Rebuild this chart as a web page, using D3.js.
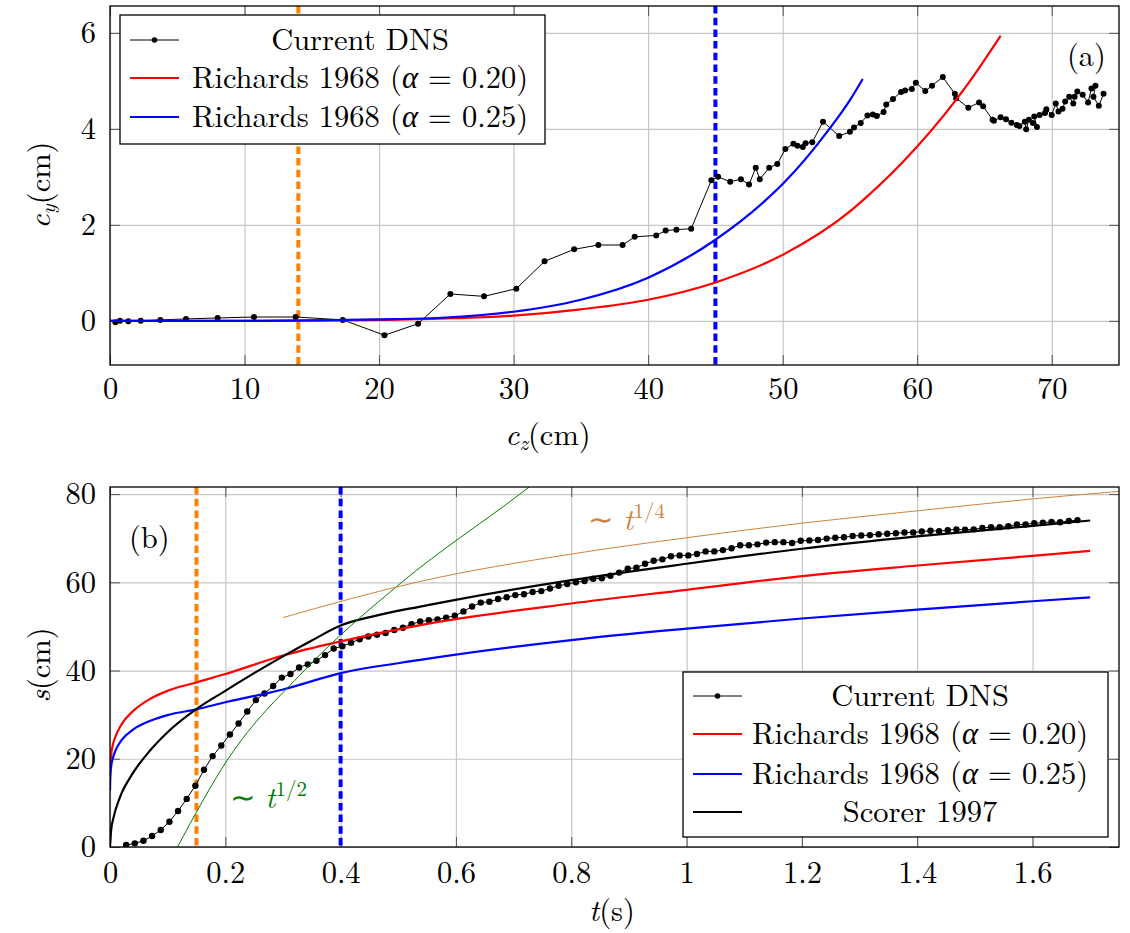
<!DOCTYPE html>
<html>
<head>
<meta charset="utf-8">
<script src="https://cdn.jsdelivr.net/npm/d3@7"></script>
<style>
  body { margin: 0; background: #fff; }
  .grid line { stroke: #c6c6c6; stroke-width: 1.2; }
  .tickmark line { stroke: #555; stroke-width: 1; }
</style>
</head>
<body>
<svg id="chart" width="1130" height="933"></svg>
<script>
/* global d3 */

// ---- panel (a): c_y against c_z ----
const topXTicks = [0, 10, 20, 30, 40, 50, 60, 70]
const topYTicks = [0, 2, 4, 6]

const dnsCz = [0.4,0.74,1.36,2.28,3.74,5.65,8.0,10.7,13.8,17.3,20.4,22.9,25.3,27.8,30.2,32.3,34.5,36.3,38.1,39.0,
  40.6,41.3,42.1,43.2,44.7,45.2,46.1,46.9,47.5,48.0,48.3,49.0,49.6,50.2,50.8,51.1,51.5,51.7,52.2,53.0,
  54.2,55.0,55.3,55.8,56.3,56.7,57.0,57.5,57.7,58.2,58.8,59.1,59.6,59.9,60.6,61.1,61.9,62.8,62.9,63.8,
  64.6,64.9,65.6,65.7,66.2,66.6,67.0,67.4,67.6,68.0,68.1,68.3,68.6,68.9,68.7,69.1,69.5,69.6,70.0,70.3,
  70.5,70.8,71.0,71.3,71.6,71.7,71.9,72.3,72.7,72.95,73.25,73.1,73.5,73.85]
const dnsCy = [-0.03,0.0,-0.01,0.0,0.02,0.04,0.06,0.08,0.08,0.02,-0.3,-0.06,0.56,0.51,0.67,1.24,1.49,1.58,1.58,1.75,
  1.78,1.88,1.9,1.92,2.93,3.0,2.9,2.95,2.84,3.19,2.95,3.19,3.27,3.58,3.69,3.65,3.62,3.7,3.72,4.15,
  3.85,3.94,4.03,4.12,4.28,4.3,4.27,4.35,4.51,4.62,4.77,4.8,4.83,4.96,4.79,4.9,5.08,4.73,4.64,4.44,
  4.55,4.47,4.19,4.17,4.24,4.2,4.13,4.08,4.06,4.15,3.99,4.19,4.12,4.04,4.26,4.29,4.33,4.41,4.29,4.53,
  4.36,4.42,4.57,4.67,4.53,4.67,4.78,4.71,4.55,4.84,4.9,4.67,4.48,4.73]

const rich20Cz = [0, 10, 20, 25, 30, 35, 40, 45, 50, 55, 56, 59.9, 63.8, 66.2]
const rich20Cy = [0, 0, 0.02, 0.05, 0.11, 0.24, 0.44, 0.8, 1.375, 2.28, 2.52, 3.6, 4.95, 5.94]
const rich25Cz = [0, 10, 20, 25, 30, 35, 40, 45, 48.8, 50, 53.5, 55, 55.95]
const rich25Cy = [0, 0, 0.03, 0.07, 0.19, 0.44, 0.9, 1.69, 2.53, 2.85, 4.01, 4.6, 5.04]

const topMarkers = [14, 45]   // orange, blue

// ---- panel (b): s against t ----
const botXTicks = [0, 0.2, 0.4, 0.6, 0.8, 1, 1.2, 1.4, 1.6]
const botYTicks = [0, 20, 40, 60, 80]

const dnsT = [0.028,0.043,0.058,0.073,0.088,0.103,0.118,0.133,0.148,0.163,
  0.178,0.193,0.208,0.223,0.238,0.253,0.268,0.283,0.298,0.313,
  0.328,0.343,0.358,0.373,0.388,0.403,0.418,0.433,0.448,0.463,
  0.478,0.493,0.508,0.523,0.538,0.553,0.568,0.583,0.598,0.613,
  0.628,0.643,0.658,0.673,0.688,0.703,0.718,0.733,0.748,0.763,
  0.778,0.793,0.808,0.823,0.838,0.853,0.868,0.883,0.898,0.913,
  0.928,0.943,0.958,0.973,0.988,1.003,1.018,1.033,1.048,1.063,
  1.078,1.093,1.108,1.123,1.138,1.153,1.168,1.183,1.198,1.213,
  1.228,1.243,1.258,1.273,1.288,1.303,1.318,1.333,1.348,1.363,
  1.378,1.393,1.408,1.423,1.438,1.453,1.468,1.483,1.498,1.513,
  1.528,1.543,1.558,1.573,1.588,1.603,1.618,1.633,1.648,1.663,1.678]
const dnsS = [0.45,0.83,1.43,2.5,3.86,5.74,8.16,10.9,13.9,17.5,
  20.6,23.0,25.5,28.0,30.7,33.3,34.8,36.5,38.4,39.2,
  40.7,41.4,42.2,43.5,45.0,45.5,46.3,47.1,47.7,48.1,
  48.5,49.2,49.7,50.5,51.1,51.4,51.6,52.0,52.4,53.4,
  54.5,55.4,55.6,56.2,56.6,57.1,57.3,57.8,58.0,58.6,
  59.2,59.6,60.0,60.3,60.8,60.9,61.5,62.2,63.1,63.3,
  64.2,64.9,65.2,65.9,66.1,66.1,66.4,67.0,67.0,67.3,
  67.7,68.4,68.4,68.6,69.0,69.1,69.1,68.9,69.4,69.5,
  69.6,69.9,70.1,70.2,70.5,70.6,70.7,70.9,71.0,71.1,
  71.3,71.3,71.5,71.7,71.6,71.8,72.0,71.9,72.0,72.3,
  72.5,72.5,72.7,73.1,73.1,73.4,73.5,73.7,73.6,73.9,74.1]

const rich20T = [0, 0.0005, 0.002, 0.005, 0.01, 0.02, 0.04, 0.07, 0.1, 0.15, 0.2, 0.3, 0.4, 0.538, 0.8, 1.0, 1.2, 1.4, 1.6, 1.7]
const rich20S = [14.8, 18.6, 21.0, 23.2, 25.2, 27.8, 30.8, 33.6, 35.4, 37.3, 39.2, 43.4, 46.6, 50.3, 55.2, 58.3, 61.4, 63.8, 66.0, 67.1]
const rich25T = [0, 0.0005, 0.002, 0.005, 0.01, 0.02, 0.04, 0.07, 0.1, 0.15, 0.2, 0.3, 0.4, 0.538, 0.8, 1.0, 1.2, 1.4, 1.6, 1.7]
const rich25S = [12.8, 16.0, 18.2, 20.2, 22.0, 24.2, 26.6, 28.6, 29.9, 31.2, 32.8, 35.7, 39.4, 42.4, 46.9, 49.5, 51.8, 53.8, 55.7, 56.6]
const scorerT = [0, 0.002, 0.006, 0.017, 0.04, 0.069, 0.098, 0.149, 0.2, 0.25, 0.3, 0.35, 0.4, 0.46, 0.538, 0.59, 0.8, 1.0, 1.2, 1.4, 1.6, 1.7]
const scorerS = [0, 3.8, 6.6, 11.2, 16.8, 21.8, 25.8, 31.2, 35.4, 39.4, 43.2, 46.8, 50.2, 52.4, 54.5, 55.8, 60.5, 64.2, 67.6, 70.4, 72.8, 74.0]
const halfT = [0.117, 0.205, 0.337, 0.506, 0.711, 0.727]
const halfS = [0, 20, 40, 60, 80, 81.6]
const quarterT = [0.3, 0.538, 0.8, 1.0, 1.2, 1.4, 1.6, 1.75]
const quarterS = [52, 60.2, 66.4, 70.1, 73.4, 76.2, 78.9, 80.6]

const botMarkers = [0.15, 0.4]

const C = { red: '#ff0000', blue: '#0000ff', orange: '#ff8000', green: '#008000', brown: '#cd853f' }
const FONT = '"Latin Modern Roman", "Liberation Serif", serif'
const GREEK = '"Liberation Serif", "DejaVu Serif", serif'
const SYMBOL = '"DejaVu Sans", "DejaVu Serif", sans-serif'
const FS = 30.5

const svg = d3.select('#chart')
const zip = (a, b) => a.map((v, i) => [v, b[i]])
const serif = sel => sel.style('font-family', FONT).style('font-size', FS + 'px').style('fill', '#000')

const makePanel = function(opt) {
    const left = 110, right = 1119
    const w = right - left, h = opt.bottom - opt.top
    const x = d3.scaleLinear().domain(opt.xDomain).range([left, right])
    const y = d3.scaleLinear().domain(opt.yDomain).range([opt.bottom, opt.top])

    svg.append('clipPath').attr('id', opt.id + 'Clip')
      .append('rect').attr('x', left).attr('y', opt.top).attr('width', w).attr('height', h)

    // grid
    svg.append('g').attr('class', 'grid').attr('transform', `translate(0,${opt.bottom})`)
      .call(d3.axisBottom(x).tickValues(opt.xTicks).tickSize(-h).tickFormat(''))
    svg.append('g').attr('class', 'grid').attr('transform', `translate(${left},0)`)
      .call(d3.axisLeft(y).tickValues(opt.yTicks).tickSize(-w).tickFormat(''))

    // small inward ticks on all four sides
    const tk = 10
    svg.append('g').attr('class', 'tickmark').attr('transform', `translate(0,${opt.bottom})`)
      .call(d3.axisBottom(x).tickValues(opt.xTicks).tickSize(-tk).tickFormat(''))
    svg.append('g').attr('class', 'tickmark').attr('transform', `translate(0,${opt.top})`)
      .call(d3.axisTop(x).tickValues(opt.xTicks).tickSize(-tk).tickFormat(''))
    svg.append('g').attr('class', 'tickmark').attr('transform', `translate(${left},0)`)
      .call(d3.axisLeft(y).tickValues(opt.yTicks).tickSize(-tk).tickFormat(''))
    svg.append('g').attr('class', 'tickmark').attr('transform', `translate(${right},0)`)
      .call(d3.axisRight(y).tickValues(opt.yTicks).tickSize(-tk).tickFormat(''))

    // tick labels
    const xl = svg.append('g').attr('transform', `translate(0,${opt.bottom})`)
      .call(d3.axisBottom(x).tickValues(opt.xTicks).tickSize(0).tickPadding(opt.xPad).tickFormat(d => String(d)))
    const yl = svg.append('g').attr('transform', `translate(${left},0)`)
      .call(d3.axisLeft(y).tickValues(opt.yTicks).tickSize(0).tickPadding(14).tickFormat(d => String(d)))
    xl.select('.domain').remove()
    yl.select('.domain').remove()
    serif(xl.selectAll('text'))
    serif(yl.selectAll('text'))

    svg.selectAll('.grid .domain, .tickmark .domain').remove()

    const plot = svg.append('g').attr('clip-path', `url(#${opt.id}Clip)`)
    return { x, y, plot, left, right, top: opt.top, bottom: opt.bottom, w, h }
}

const frame = function(p) {
    svg.append('rect').attr('x', p.left).attr('y', p.top).attr('width', p.w).attr('height', p.h)
      .attr('fill', 'none').attr('stroke', '#000').attr('stroke-width', 1.3)
}

const vline = function(p, xv, color) {
    p.plot.append('line')
      .attr('x1', p.x(xv)).attr('x2', p.x(xv)).attr('y1', p.top).attr('y2', p.bottom)
      .attr('stroke', color).attr('stroke-width', 4).attr('stroke-dasharray', '7.5,4.2')
}

const curve = function(p, xs, ys, color, width) {
    p.plot.append('path')
      .attr('d', d3.line().x(d => p.x(d[0])).y(d => p.y(d[1])).curve(d3.curveMonotoneX)(zip(xs, ys)))
      .attr('fill', 'none').attr('stroke', color).attr('stroke-width', width)
}

const dns = function(p, xs, ys, r) {
    const pts = zip(xs, ys)
    p.plot.append('path')
      .attr('d', d3.line().x(d => p.x(d[0])).y(d => p.y(d[1]))(pts))
      .attr('fill', 'none').attr('stroke', '#000').attr('stroke-width', 1)
    p.plot.selectAll(null).data(pts).join('circle')
      .attr('cx', d => p.x(d[0])).attr('cy', d => p.y(d[1])).attr('r', r).attr('fill', '#000')
}

// text with mixed italic / greek / sub / superscript pieces
const richText = function(sel, parts, color) {
    serif(sel)
    if (color) sel.style('fill', color)
    parts.forEach(pt => {
        const t = sel.append('tspan').text(pt.t)
        if (pt.i) t.style('font-style', 'italic')
        if (pt.g) t.style('font-family', GREEK)
        if (pt.sym) t.style('font-family', SYMBOL).style('font-weight', 'normal')
        if (pt.size) t.style('font-size', pt.size + 'px')
        if (pt.dy) t.attr('dy', pt.dy)
    })
    return sel
}

const legend = function(box, rows) {
    svg.append('rect').attr('x', box.x).attr('y', box.y).attr('width', box.w).attr('height', box.h)
      .attr('fill', '#fff').attr('stroke', '#000').attr('stroke-width', 1.3)
    rows.forEach((r, i) => {
        const cy = box.rows[i]
        svg.append('line').attr('x1', box.x + 10).attr('x2', box.x + 59).attr('y1', cy).attr('y2', cy)
          .attr('stroke', r.color).attr('stroke-width', r.width)
        if (r.dot) svg.append('circle').attr('cx', box.x + 34.5).attr('cy', cy).attr('r', 2.8).attr('fill', '#000')
        richText(svg.append('text').attr('x', box.tx).attr('y', cy + 10).attr('text-anchor', 'middle'), r.parts)
    })
}

const richRows = (color20, color25) => [
    { color: '#000', width: 1, dot: true, parts: [{ t: 'Current DNS' }] },
    { color: color20, width: 2.2, parts: [{ t: 'Richards 1968 (' }, { t: 'α', i: true, g: true }, { t: ' = 0.20)' }] },
    { color: color25, width: 2.2, parts: [{ t: 'Richards 1968 (' }, { t: 'α', i: true, g: true }, { t: ' = 0.25)' }] }
]

// ---------- panel (a) ----------
const pa = makePanel({ id: 'a', xDomain: [0, 75], yDomain: [-0.92, 6.56], top: 6, bottom: 365,
    xTicks: topXTicks, yTicks: topYTicks, xPad: 12 })
vline(pa, topMarkers[0], C.orange)
vline(pa, topMarkers[1], C.blue)
dns(pa, dnsCz, dnsCy, 3)
curve(pa, rich20Cz, rich20Cy, C.red, 2.2)
curve(pa, rich25Cz, rich25Cy, C.blue, 2.2)
frame(pa)
legend({ x: 120, y: 15, w: 425, h: 129, rows: [40, 78, 117], tx: 360 }, richRows(C.red, C.blue))
richText(svg.append('text').attr('x', 1067).attr('y', 66), [{ t: '(a)' }])

richText(svg.append('text').attr('x', 548).attr('y', 445).attr('text-anchor', 'middle'),
    [{ t: 'c', i: true }, { t: 'z', i: true, size: 21, dy: 5 }, { t: '(cm)', dy: -5 }])
richText(svg.append('text').attr('transform', 'translate(50,185) rotate(-90)').attr('text-anchor', 'middle'),
    [{ t: 'c', i: true }, { t: 'y', i: true, size: 21, dy: 5 }, { t: '(cm)', dy: -5 }])

// ---------- panel (b) ----------
const pb = makePanel({ id: 'b', xDomain: [0, 1.75], yDomain: [0, 81.6], top: 487, bottom: 847,
    xTicks: botXTicks, yTicks: botYTicks, xPad: 14 })
vline(pb, botMarkers[0], C.orange)
vline(pb, botMarkers[1], C.blue)
dns(pb, dnsT, dnsS, 3.2)
curve(pb, rich20T, rich20S, C.red, 2.2)
curve(pb, rich25T, rich25S, C.blue, 2.2)
curve(pb, scorerT, scorerS, '#000', 2.2)
curve(pb, halfT, halfS, C.green, 1)
curve(pb, quarterT, quarterS, C.brown, 1)
frame(pb)
legend({ x: 683, y: 672, w: 425, h: 165, rows: [696, 734, 774, 812], tx: 920 },
    richRows(C.red, C.blue).concat([{ color: '#000', width: 2.2, parts: [{ t: 'Scorer 1997' }] }]))
richText(svg.append('text').attr('x', 129).attr('y', 548), [{ t: '(b)' }])

richText(svg.append('text').attr('x', 588).attr('y', 530),
    [{ t: '∼ ', sym: true }, { t: 't', i: true }, { t: '1/4', size: 21, dy: -12 }], C.brown)
richText(svg.append('text').attr('x', 230).attr('y', 808),
    [{ t: '∼ ', sym: true }, { t: 't', i: true }, { t: '1/2', size: 21, dy: -12 }], C.green)

richText(svg.append('text').attr('x', 612).attr('y', 921).attr('text-anchor', 'middle'),
    [{ t: 't', i: true }, { t: '(s)' }])
richText(svg.append('text').attr('transform', 'translate(50,665) rotate(-90)').attr('text-anchor', 'middle'),
    [{ t: 's', i: true }, { t: '(cm)' }])
</script>
</body>
</html>
